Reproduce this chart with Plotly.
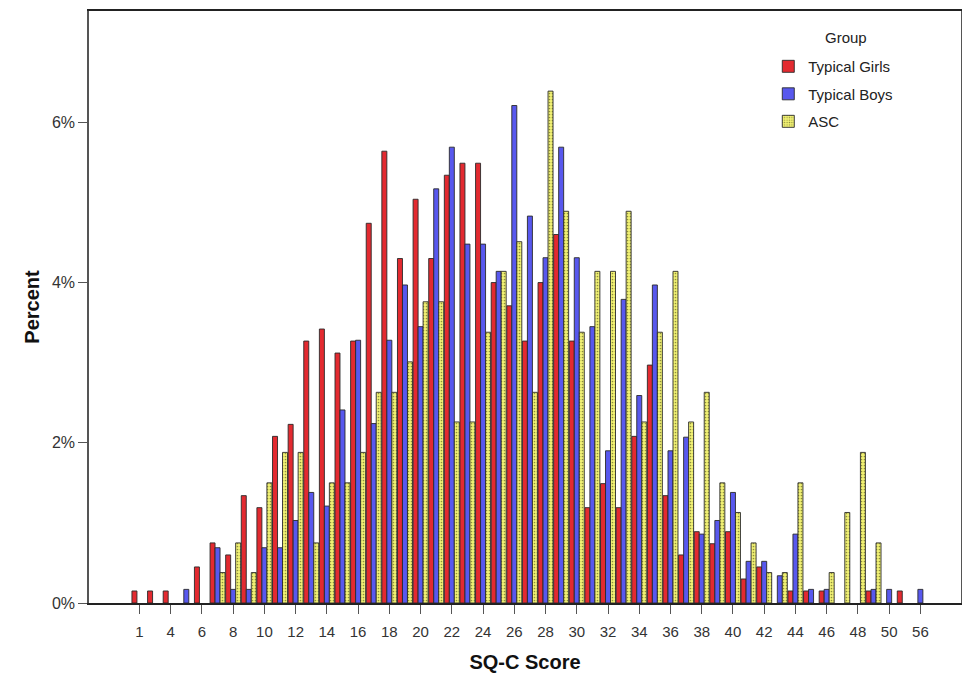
import plotly.graph_objects as go

# SQ-C score categories (one unlabeled category between 1 and 4, and between 50 and 56)
scores = ["1", "2", "4", "5", "6", "7", "8", "9", "10", "11", "12", "13", "14", "15",
          "16", "17", "18", "19", "20", "21", "22", "23", "24", "25", "26", "27", "28",
          "29", "30", "31", "32", "33", "34", "35", "36", "37", "38", "39", "40", "41",
          "42", "43", "44", "45", "46", "47", "48", "49", "50", "51", "56"]

tick_labels = ["1", "4", "6", "8", "10", "12", "14", "16", "18", "20", "22", "24", "26",
               "28", "30", "32", "34", "36", "38", "40", "42", "44", "46", "48", "50", "56"]

typical_girls = [0.15, 0.15, 0.15, 0, 0.45, 0.75, 0.60, 1.34, 1.19, 2.08, 2.23, 3.27, 3.42,
                 3.12, 3.27, 4.74, 5.64, 4.30, 5.04, 4.30, 5.34, 5.49, 5.49, 4.00, 3.71,
                 3.27, 4.00, 4.60, 3.27, 1.19, 1.49, 1.19, 2.08, 2.97, 1.34, 0.60, 0.89,
                 0.74, 0.89, 0.30, 0.45, 0, 0.15, 0.15, 0.15, 0, 0, 0.15, 0, 0.15, 0]

typical_boys = [0, 0, 0, 0.17, 0, 0.69, 0.17, 0.17, 0.69, 0.69, 1.03, 1.38, 1.21, 2.41,
                3.28, 2.24, 3.28, 3.97, 3.45, 5.17, 5.69, 4.48, 4.48, 4.14, 6.21, 4.83,
                4.31, 5.69, 4.31, 3.45, 1.90, 3.79, 2.59, 3.97, 1.90, 2.07, 0.86, 1.03,
                1.38, 0.52, 0.52, 0.34, 0.86, 0.17, 0.17, 0, 0, 0.17, 0.17, 0, 0.17]

asc = [0, 0, 0, 0, 0, 0.38, 0.75, 0.38, 1.50, 1.88, 1.88, 0.75, 1.50, 1.50, 1.88, 2.63,
       2.63, 3.01, 3.76, 3.76, 2.26, 2.26, 3.38, 4.14, 4.51, 2.63, 6.39, 4.89, 3.38, 4.14,
       4.14, 4.89, 2.26, 3.38, 4.14, 2.26, 2.63, 1.50, 1.13, 0.75, 0.38, 0.38, 1.50, 0,
       0.38, 1.13, 1.88, 0.75, 0, 0, 0]

y_ticks = [0, 2, 4, 6]
y_tick_text = ["0%", "2%", "4%", "6%"]

FONT = "Liberation Sans, Arial, sans-serif"
outline = dict(color="#2a2a2a", width=0.9)


def nz(values):
    # empty categories draw no bar at all
    return [v if v > 0 else None for v in values]


fig = go.Figure()
fig.add_trace(go.Bar(x=scores, y=nz(typical_girls), name="Typical Girls", legendgroup="g",
                     marker=dict(color="#E32A30", line=outline)))
fig.add_trace(go.Bar(x=scores, y=nz(typical_boys), name="Typical Boys", legendgroup="b",
                     marker=dict(color="#5858EE", line=outline)))
fig.add_trace(go.Bar(x=scores, y=nz(asc), name="ASC", legendgroup="a",
                     marker=dict(color="#F2F274", line=outline,
                                 pattern=dict(shape=".", size=3, solidity=0.25,
                                              fgcolor="#77772e", fgopacity=0.8))))

fig.update_layout(
    width=962, height=674,
    margin=dict(l=89, r=1, t=11, b=71, autoexpand=False),
    paper_bgcolor="white", plot_bgcolor="white",
    barmode="group", bargap=0.04, bargroupgap=0,
    font=dict(family=FONT, size=15, color="#333333"),
    showlegend=True,
    legend=dict(
        x=0.779, y=0.934, xanchor="left", yanchor="top",
        bgcolor="rgba(0,0,0,0)",
        traceorder="grouped", tracegroupgap=5,
        font=dict(family=FONT, size=15, color="#222222"),
    ),
    annotations=[dict(
        text="Group", xref="paper", yref="paper", x=0.868, y=0.9546,
        xanchor="center", yanchor="middle", showarrow=False,
        font=dict(family=FONT, size=15, color="#222222"),
    )],
    xaxis=dict(
        type="category", automargin=False,
        categoryorder="array", categoryarray=scores,
        range=[-3.23, 52.6],
        tickmode="array", tickvals=tick_labels, ticktext=tick_labels,
        ticks="outside", ticklen=9, tickwidth=1.3, tickcolor="#555555",
        ticklabelstandoff=5,
        tickfont=dict(family=FONT, size=15, color="#333333"),
        showline=True, linecolor="#222222", linewidth=1.5, mirror=True,
        showgrid=False, zeroline=False,
        title=dict(text="<b>SQ-C Score</b>", standoff=16,
                   font=dict(family=FONT, size=20, color="#111111")),
    ),
    yaxis=dict(
        range=[0, 7.39], automargin=False,
        tickmode="array", tickvals=y_ticks, ticktext=y_tick_text,
        ticks="outside", ticklen=9, tickwidth=1.3, tickcolor="#555555",
        tickfont=dict(family=FONT, size=16, color="#333333"),
        showline=True, linecolor="#555555", linewidth=1.5, mirror=True,
        showgrid=False, zeroline=False,
        title=dict(text="<b>Percent</b>", standoff=7,
                   font=dict(family=FONT, size=20, color="#111111")),
    ),
)

fig.write_html(
    "out.html",
    config={"displayModeBar": False},
    post_script="document.body.style.margin='0';document.body.style.overflow='hidden';",
)
